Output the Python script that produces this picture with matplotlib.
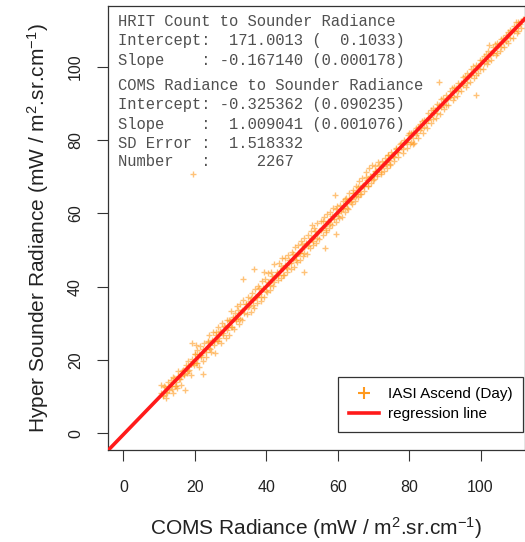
import numpy as np
import matplotlib
matplotlib.use("Agg")
import matplotlib.pyplot as plt
from matplotlib.lines import Line2D

# ---- data ----
x_seg_a = [10.5,11.0,11.3,11.8,12.0,12.4,12.9,13.2,13.5,13.8,14.1,14.4,14.8,15.0,15.3,15.7,16.0,16.2,16.6,16.9,17.2,17.5,17.8,18.1,18.4,18.8,19.0,19.3,19.7,20.0,19.4,19.2,20.4]
y_seg_a = [13.2,10.4,12.8,11.2,9.6,13.9,11.7,14.6,12.1,10.9,15.2,13.0,14.1,12.3,16.9,14.8,15.6,13.3,17.4,15.9,11.9,17.8,16.5,19.6,17.2,18.9,15.8,20.4,18.6,21.5,70.8,24.5,24.2]

x_seg_b = [20.3,20.6,21.0,21.2,21.5,21.8,22.1,22.4,22.7,23.0,23.2,23.6,23.9,24.1,24.4,24.8,25.0,25.3,25.6,25.9,26.2,26.5,26.8,27.1,27.4,27.7,28.0,28.3,28.6,28.9,29.2,29.5,29.8,30.0,22.4]
y_seg_b = [19.2,22.8,20.7,18.1,23.9,21.4,22.0,19.6,24.6,22.9,20.8,25.1,23.4,26.7,22.3,25.5,27.6,24.0,21.9,26.8,25.1,28.9,26.0,27.8,24.6,30.2,27.3,29.4,26.1,31.0,29.0,26.9,30.6,33.4,16.1]

x_seg_c = [30.3,30.6,30.9,31.2,31.5,31.8,32.1,32.4,32.7,33.0,33.3,33.6,33.9,34.2,34.5,34.8,35.1,35.4,35.7,36.0,36.3,36.6,36.9,37.2,37.5,37.8,38.1,38.4,38.7,39.0,39.3,39.6,39.9,40.2,40.5,40.8,41.1,41.4,41.7,42.0,42.3,42.6,42.9,43.2,43.5,43.8,44.1,44.4,44.7,45.0,33.4,36.7,39.3]
y_seg_c = [29.1,31.8,28.4,32.9,30.7,34.6,31.4,29.9,35.2,33.1,31.0,36.4,33.8,35.4,32.5,37.1,34.6,36.2,33.0,38.2,36.4,34.1,39.4,37.2,35.5,40.1,38.0,36.2,41.5,39.3,37.1,42.0,40.3,38.5,43.6,41.0,39.2,44.1,42.0,40.1,46.3,42.8,44.0,41.7,46.5,44.2,42.3,47.9,45.1,43.3,42.0,44.7,44.1]

x_seg_d = [45.3,45.6,45.9,46.2,46.5,46.8,47.1,47.4,47.7,48.0,48.3,48.6,48.9,49.2,49.5,49.8,50.1,50.4,50.7,51.0,51.3,51.6,51.9,52.2,52.5,52.8,53.1,53.4,53.7,54.0,54.3,54.6,54.9,55.2,55.5,55.8,56.1,56.4,56.7,57.0,57.3,57.6,57.9,58.2,58.5,58.8,59.1,59.4,59.7,60.0,50.5,56.4,59.5,52.7,59.2]
y_seg_d = [47.8,45.5,43.9,48.7,46.4,44.8,49.6,47.5,45.3,50.8,48.4,46.6,51.3,49.1,47.4,52.6,50.2,48.3,53.4,51.4,49.0,54.0,52.1,50.5,55.1,53.0,51.3,56.0,54.1,52.0,57.3,55.0,53.1,57.8,55.9,54.2,58.9,56.6,55.0,59.9,57.6,56.0,60.4,58.5,56.8,61.6,59.4,57.6,62.1,60.2,44.0,50.6,54.4,56.9,65.1]

x_seg_e = [60.3,60.6,60.9,61.2,61.5,61.8,62.1,62.4,62.7,63.0,63.3,63.6,63.9,64.2,64.5,64.8,65.1,65.4,65.7,66.0,66.3,66.6,66.9,67.2,67.5,67.8,68.1,68.4,68.7,69.0,69.3,69.6,69.9,70.2,70.5,70.8,71.1,71.4,71.7,72.0,72.3,72.6,72.9,73.2,73.5,73.8,74.1,74.4,74.7,75.0,75.4,75.8,76.2,76.6,77.0,77.4,77.8,78.2,78.6,79.0,79.4,79.8,81.0]
y_seg_e = [58.8,62.4,60.6,59.0,63.5,62.0,60.3,64.2,62.9,61.2,65.6,63.9,62.6,66.3,64.8,63.5,67.4,65.9,64.4,68.8,66.8,65.3,69.6,67.7,66.2,71.4,69.0,67.4,72.3,70.1,68.3,73.2,70.8,69.4,72.8,71.6,70.2,73.9,72.2,70.8,74.3,73.0,71.6,75.1,73.9,72.3,76.0,74.6,73.1,76.8,75.7,74.3,77.9,76.8,75.4,79.0,78.2,76.5,80.0,79.4,77.8,81.3,79.0]

x_seg_f = [80.2,80.6,81.0,81.4,81.8,82.2,82.6,83.0,83.4,83.8,84.2,84.6,85.0,85.4,85.8,86.2,86.6,87.0,87.4,87.8,88.2,88.6,89.0,89.4,89.8,90.2,90.6,91.0,91.4,91.8,92.2,92.6,93.0,93.4,93.8,94.2,94.6,95.0,95.4,95.8,96.2,96.6,97.0,97.4,97.8,98.2,98.6,99.0,99.4,99.8,100.2,100.6,101.0,101.4,101.8,102.2,102.6,103.0,103.4,103.8,104.2,104.6,105.0,105.4,105.8,106.2,106.6,107.0,107.4,107.8,108.2,108.6,109.0,109.4,109.8,110.2,110.6,111.0,111.4,111.8,88.4,98.7,102.4]
y_seg_f = [78.9,82.0,80.5,79.2,83.3,82.0,80.6,84.5,83.2,81.9,85.6,84.6,83.3,87.4,86.2,84.6,88.7,87.3,86.0,89.9,88.8,87.2,91.3,89.9,88.5,92.2,91.2,89.6,93.5,92.3,90.9,94.6,93.6,92.0,95.7,94.8,93.3,97.2,96.0,94.6,98.3,97.3,95.8,99.5,98.5,97.0,100.6,99.7,98.3,101.8,100.9,99.4,103.0,102.1,100.7,104.3,103.3,101.8,105.4,104.5,103.1,106.4,105.7,104.2,107.6,106.9,105.4,108.8,108.2,106.6,110.0,109.4,107.9,111.0,110.6,109.2,112.3,111.7,110.5,113.0,95.9,92.4,106.0]

# dense core of points hugging the regression line
x_core = [10.4,11.0,11.6,12.2,12.8,13.4,14.0,14.6,15.2,15.8,16.4,17.0,17.6,18.2,18.8,19.4,20.0,20.6,21.2,21.8,
          22.4,23.0,23.6,24.2,24.8,25.4,26.0,26.6,27.2,27.8,28.4,29.0,29.6,30.2,30.8,31.4,32.0,32.6,33.2,33.8,
          34.4,35.0,35.6,36.2,36.8,37.4,38.0,38.6,39.2,39.8,40.4,41.0,41.6,42.2,42.8,43.4,44.0,44.6,45.2,45.8,
          46.4,47.0,47.6,48.2,48.8,49.4,50.0,50.6,51.2,51.8,52.4,53.0,53.6,54.2,54.8,55.4,56.0,56.6,57.2,57.8,
          58.4,59.0,59.6,60.2,60.8,61.4,62.0,62.6,63.2,63.8,64.4,65.0,65.6,66.2,66.8,67.4,68.0,68.6,69.2,69.8,
          70.4,71.0,71.6,72.2,72.8,73.4,74.0,74.6,75.2,75.8,76.4,77.0,77.6,78.2,78.8,79.4,80.0,80.6,81.2,81.8,
          82.4,83.0,83.6,84.2,84.8,85.4,86.0,86.6,87.2,87.8,88.4,89.0,89.6,90.2,90.8,91.4,92.0,92.6,93.2,93.8,
          94.4,95.0,95.6,96.2,96.8,97.4,98.0,98.6,99.2,99.8,100.4,101.0,101.6,102.2,102.8,103.4,104.0,104.6,105.2,105.8,
          106.4,107.0,107.6,108.2,108.8,109.4,110.0,110.6,111.2]
y_core = [11.0,10.2,12.7,10.9,12.9,13.0,15.4,13.0,15.5,14.7,17.0,16.2,18.7,16.9,18.9,19.1,21.5,19.1,21.6,20.8,
          23.1,22.3,24.8,23.0,25.0,25.1,27.5,25.1,27.6,26.8,29.1,28.3,30.8,29.0,31.1,31.2,33.6,31.2,33.7,32.9,
          35.2,34.4,36.9,35.1,37.1,37.2,39.6,37.2,39.7,38.9,41.2,40.4,42.9,41.2,43.2,43.3,45.7,43.3,45.8,45.0,
          47.3,46.5,49.0,47.2,49.2,49.3,51.7,49.3,51.8,51.0,53.3,52.6,55.1,53.3,55.3,55.4,57.8,55.4,57.9,57.1,
          59.4,58.6,61.1,59.3,61.3,61.4,63.8,61.4,63.9,63.2,65.5,64.7,67.2,65.4,67.4,67.5,69.9,67.5,70.0,69.2,
          71.5,70.7,73.2,71.4,73.4,73.5,75.9,73.5,76.0,75.3,77.6,76.8,79.3,77.5,79.5,79.6,82.0,79.6,82.1,81.3,
          83.6,82.8,85.3,83.5,85.5,85.6,88.1,85.7,88.2,87.4,89.7,88.9,91.4,89.6,91.6,91.7,94.1,91.7,94.2,93.4,
          95.7,94.9,97.4,95.6,97.6,97.8,100.2,97.8,100.3,99.5,101.8,101.0,103.5,101.7,103.7,103.8,106.2,103.8,106.3,105.5,
          107.8,107.0,109.5,107.8,109.8,109.9,112.3,109.9,112.4]

reg_intercept = -0.325362
reg_slope = 1.009041

x_ticks = [0, 20, 40, 60, 80, 100]
y_ticks = [0, 20, 40, 60, 80, 100]

stats_lines = [
    "HRIT Count to Sounder Radiance",
    "Intercept:  171.0013 (  0.1033)",
    "Slope    : -0.167140 (0.000178)",
    "COMS Radiance to Sounder Radiance",
    "Intercept: -0.325362 (0.090235)",
    "Slope    :  1.009041 (0.001076)",
    "SD Error :  1.518332",
    "Number   :     2267",
]
stats_y_px = [22, 41, 60, 86, 105, 124, 143, 162]

xs = np.concatenate([x_seg_a, x_seg_b, x_seg_c, x_seg_d, x_seg_e, x_seg_f, x_core])
ys = np.concatenate([y_seg_a, y_seg_b, y_seg_c, y_seg_d, y_seg_e, y_seg_f, y_core])

# ---- figure ----
W, H = 525, 542
plt.rcParams['font.family'] = ['Liberation Sans', 'DejaVu Sans']
plt.rcParams['mathtext.fontset'] = 'custom'
plt.rcParams['mathtext.rm'] = 'Liberation Sans'
plt.rcParams['mathtext.it'] = 'Liberation Sans'

fig = plt.figure(figsize=(W / 100, H / 100), dpi=100)
ax = fig.add_axes([108 / W, 1 - 449.7 / H, (524.5 - 108) / W, (449.7 - 6.4) / H])

pt_color = '#FF9A1F'
ax.plot(xs, ys, linestyle='none', marker='+', markersize=4.5, markeredgewidth=1.0,
        color=pt_color, alpha=0.6, zorder=2)
ax.axline((0, reg_intercept), slope=reg_slope, color='#FF1A1A', lw=2.6, zorder=3)

ax.set_xlim(-4.32, 112.32)
ax.set_ylim(-4.48, 116.48)
ax.set_xticks(x_ticks)
ax.set_yticks(y_ticks)
ax.tick_params(axis='both', length=8, width=0.8, color='#333333', labelsize=11.5,
               labelcolor='#222222')
ax.tick_params(axis='x', pad=14)
ax.tick_params(axis='y', pad=10)
for lab in ax.get_yticklabels():
    lab.set_rotation(90)
    lab.set_va('center')
for s in ax.spines.values():
    s.set_linewidth(0.9)
    s.set_color('#333333')

ax.set_xlabel(r'COMS Radiance (mW / m$^{2}$.sr.cm$^{-1}$)', fontsize=15, color='#222222', labelpad=14)
ax.set_ylabel(r'Hyper Sounder Radiance (mW / m$^{2}$.sr.cm$^{-1}$)', fontsize=15, color='#222222', labelpad=12)

for line, py in zip(stats_lines, stats_y_px):
    fig.text(118 / W, 1 - py / H, line, family='Liberation Mono', fontsize=11.2,
             color='#505050', ha='left', va='center')

handles = [
    Line2D([], [], linestyle='none', marker='+', markersize=8, markeredgewidth=1.5, color=pt_color),
    Line2D([], [], color='#FF1A1A', lw=2.6),
]
leg = ax.legend(handles, ['IASI Ascend (Day)', 'regression line'], loc='lower right',
                bbox_to_anchor=(523 / W, 1 - 432 / H), bbox_transform=fig.transFigure,
                fancybox=False, framealpha=1, edgecolor='#333333', fontsize=11,
                handlelength=2.0, handletextpad=0.55, borderpad=0.7, labelspacing=0.4,
                borderaxespad=0)
leg.get_frame().set_linewidth(0.9)

fig.savefig('out.png', dpi=100)
